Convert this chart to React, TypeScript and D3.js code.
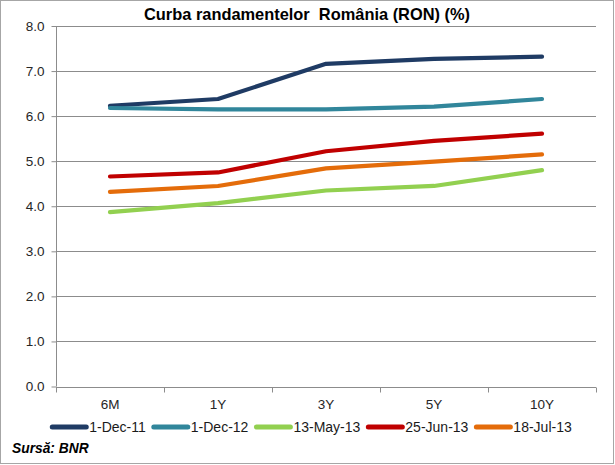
import React, { useEffect, useRef } from "react";
import * as d3 from "d3";

const categories = ["6M", "1Y", "3Y", "5Y", "10Y"];
const seriesNames = ["1-Dec-11", "1-Dec-12", "13-May-13", "25-Jun-13", "18-Jul-13"];
const dec11 = [6.23, 6.38, 7.16, 7.27, 7.32];
const dec12 = [6.18, 6.15, 6.15, 6.21, 6.38];
const may13 = [3.87, 4.07, 4.35, 4.45, 4.80];
const jun13 = [4.66, 4.75, 5.22, 5.45, 5.61];
const jul13 = [4.32, 4.45, 4.84, 4.99, 5.15];
const seriesValues = [dec11, dec12, may13, jun13, jul13];
const seriesColors = ["#1f3b64", "#31869b", "#92d050", "#c00000", "#e46c0a"];
const yTicks = [0, 1, 2, 3, 4, 5, 6, 7, 8];
const title = "Curba randamentelor  România (RON) (%)";
const source = "Sursă: BNR";

const W = 615;
const H = 465;

export default function App() {
  const ref = useRef<SVGSVGElement | null>(null);

  useEffect(() => {
    const svg = d3.select(ref.current);
    svg.selectAll("*").remove();
    const font = "'Liberation Sans', Arial, sans-serif";

    const left = 56, right = 596, top = 26, bottom = 386.5;
    const x = d3.scaleBand<string>().domain(categories).range([left, right]).padding(0);
    const y = d3.scaleLinear().domain([0, 8]).range([bottom, top]);

    svg.append("rect").attr("x", 0).attr("y", 0).attr("width", W).attr("height", H).attr("fill", "#fff");
    svg.append("rect").attr("x", 0.5).attr("y", 0.5).attr("width", 613).attr("height", 463)
      .attr("fill", "none").attr("stroke", "#a6a6a6").attr("stroke-width", 1);

    // gridlines
    svg.append("g").selectAll("line").data(yTicks.filter((t) => t > 0)).join("line")
      .attr("x1", left).attr("x2", right)
      .attr("y1", (d) => Math.round(y(d)) + 0.5).attr("y2", (d) => Math.round(y(d)) + 0.5)
      .attr("stroke", "#8c8c8c").attr("stroke-width", 1);

    // y axis
    const yAxis = d3.axisLeft(y).tickValues(yTicks).tickFormat(d3.format(".1f")).tickSize(5).tickPadding(7);
    const gy = svg.append("g").attr("transform", `translate(${left + 0.5},0)`).call(yAxis);
    gy.select(".domain").attr("stroke", "#8c8c8c").attr("d", `M0,${top}V${bottom}`);
    gy.selectAll(".tick line").attr("stroke", "#8c8c8c");
    gy.selectAll(".tick text").attr("font-family", font).attr("font-size", 13.5).attr("fill", "#262626");

    // x axis
    const xAxis = d3.axisBottom(x).tickSize(0).tickPadding(12);
    const gx = svg.append("g").attr("transform", `translate(0,${Math.round(bottom) + 0.5})`).call(xAxis);
    gx.select(".domain").attr("stroke", "#8c8c8c").attr("d", `M${left},0H${right}`);
    gx.selectAll(".tick text").attr("font-family", font).attr("font-size", 13.5).attr("fill", "#262626");
    const bounds = [...categories.map((c) => x(c) as number), right];
    gx.append("g").selectAll("line").data(bounds).join("line")
      .attr("x1", (d) => Math.round(d) + 0.5).attr("x2", (d) => Math.round(d) + 0.5)
      .attr("y1", 0).attr("y2", 5).attr("stroke", "#8c8c8c");

    // lines
    const line = d3.line<number>()
      .x((_, i) => (x(categories[i]) as number) + x.bandwidth() / 2)
      .y((d) => y(d));
    svg.append("g").selectAll("path").data(seriesValues).join("path")
      .attr("d", (d) => line(d))
      .attr("fill", "none")
      .attr("stroke", (_, i) => seriesColors[i])
      .attr("stroke-width", 4.2)
      .attr("stroke-linecap", "round")
      .attr("stroke-linejoin", "round");

    // title
    svg.append("text").attr("x", 307).attr("y", 19.5).attr("text-anchor", "middle")
      .attr("font-family", font).attr("font-size", 16.4).attr("font-weight", "bold").attr("fill", "#000")
      .style("white-space", "pre").attr("xml:space", "preserve").text(title);

    // legend
    const lg = svg.append("g");
    const items: { g: any; w: number }[] = [];
    seriesNames.forEach((name, i) => {
      const g = lg.append("g");
      g.append("line").attr("x1", 2).attr("x2", 36).attr("y1", 0).attr("y2", 0)
        .attr("stroke", seriesColors[i]).attr("stroke-width", 5).attr("stroke-linecap", "round");
      const t = g.append("text").attr("x", 39).attr("y", 0).attr("dy", "0.35em")
        .attr("font-family", font).attr("font-size", 14).attr("fill", "#1a1a1a").text(name);
      const tw = (t.node() as SVGTextElement).getComputedTextLength();
      items.push({ g, w: 39 + tw });
    });
    const gap = 6;
    const total = d3.sum(items, (d) => d.w) + gap * (items.length - 1);
    let cx = 311 - total / 2;
    items.forEach((it) => {
      it.g.attr("transform", `translate(${cx},427)`);
      cx += it.w + gap;
    });

    // source
    svg.append("text").attr("x", 12).attr("y", 452.5)
      .attr("font-family", font).attr("font-size", 13.8).attr("font-weight", "bold").attr("font-style", "italic")
      .attr("fill", "#000").text(source);
  }, []);

  return (
    <svg ref={ref} width={W} height={H} style={{ position: "absolute", left: 0, top: 0 }} />
  );
}
